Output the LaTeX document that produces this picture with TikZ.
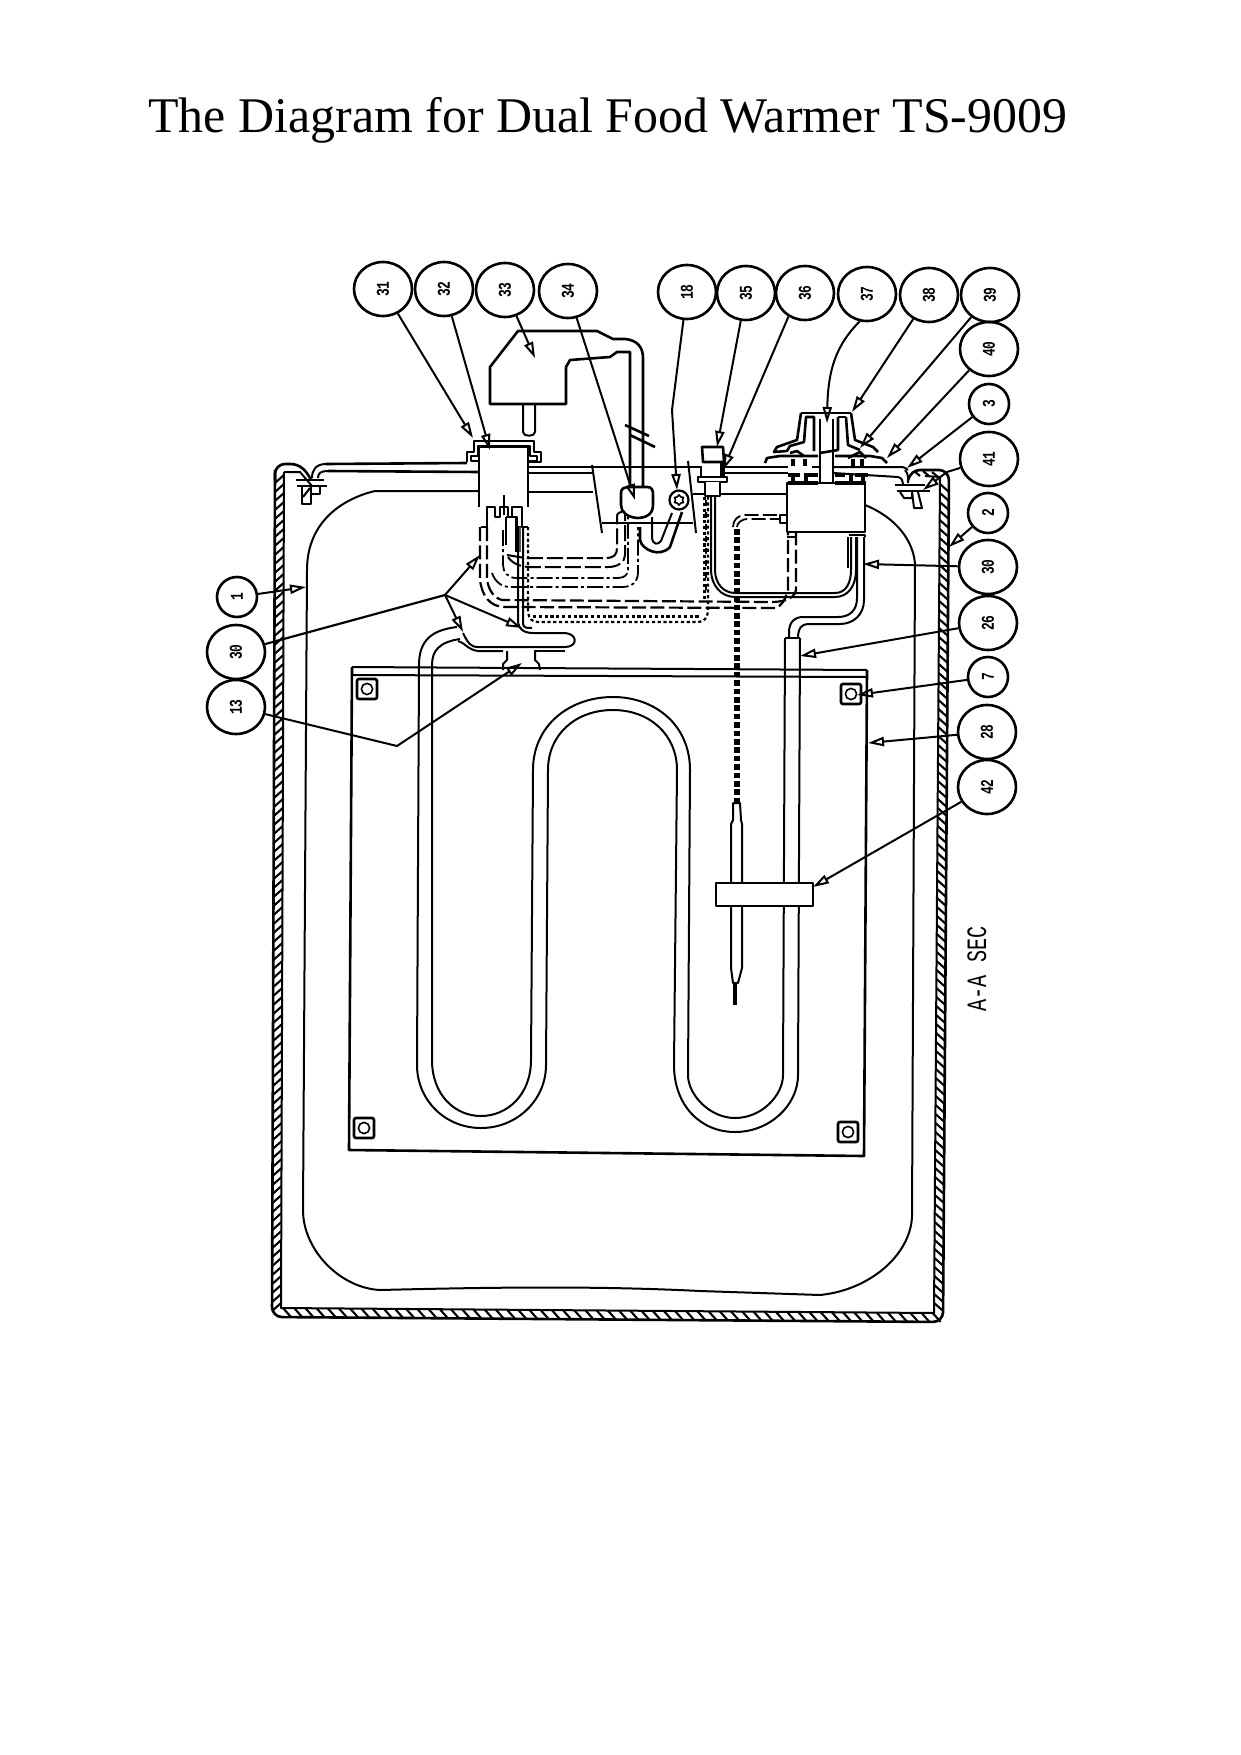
\documentclass[tikz,border=0pt]{standalone}
\usepackage{fontspec}
\usepackage{graphicx}
\setmainfont{Liberation Serif}
\newfontfamily\lblfont{Liberation Mono}
\usetikzlibrary{shapes.geometric,arrows.meta,calc}
\newcommand{\dn}[1]{\rotatebox{90}{\scalebox{.72}[1]{\lblfont\bfseries\fontsize{9}{9}\selectfont #1}}}
\tikzset{
  callout/.style={ellipse,draw,line width=1.3pt,inner sep=0pt},
  big/.style={callout,minimum width=29pt,minimum height=27pt},
  small/.style={callout,minimum width=20pt,minimum height=20pt},
  leader/.style={line width=1pt,-{Triangle[open,length=8pt,width=4.6pt,line width=1pt]}},
  plain/.style={line width=1pt},
  part/.style={line width=1pt,line join=round},
  heavy/.style={line width=1.3pt,line join=round},
  longdash/.style={line width=1.1pt,dash pattern=on 7pt off 2.2pt},
  medash/.style={line width=1pt,dash pattern=on 8pt off 2pt},
  dashdot/.style={line width=.9pt,dash pattern=on 8pt off 1.6pt on 1.5pt off 1.6pt},
  dotline/.style={line width=1.1pt,dash pattern=on 1.6pt off 1.3pt},
  capillary/.style={line width=2.6pt,dash pattern=on 2.8pt off 1.4pt},
  hatchstroke/.style={line width=1.05pt},
}
\begin{document}
\begin{tikzpicture}[x=0.5pt,y=-0.5pt]
\useasboundingbox (0,0) rectangle (1241,1755);
\fill[white] (0,0) rectangle (1241,1755);

\node[anchor=base west,inner sep=0pt,font=\fontsize{24.95}{26}\selectfont] (title) at (148,133) {The Diagram for Dual Food Warmer TS-9009};

% ---- callouts
\foreach \n/\t/\px/\py in {c31/31/383/289,c32/32/444/289,c33/33/505/290,c34/34/568/291,c18/18/687/292,c35/35/746/293,c36/36/805/293,c37/37/867/294,c38/38/929/295,c39/39/990/295,c40/40/989/349,c41/41/989/459,c30r/30/988/567,c26/26/988/623,c28/28/987/732,c42/42/987/787,c30l/30/236/652,c13/13/236/707}
  \node[big] (\n) at (\px,\py) {\dn{\t}};
\foreach \n/\t/\px/\py in {c3/3/989/404,c2/2/988/513,c7/7/988/677,c1/1/237/597}
  \node[small] (\n) at (\px,\py) {\dn{\t}};

% ---- outer wall (hatched)
\draw[heavy,rounded corners=5pt] (275,480) -- (275,464) -- (290,464);
\draw[heavy] (290,464) .. controls (300,464) and (306,470) .. (311,480);
\draw[heavy,rounded corners=5pt] (275,470) -- (272,1317) -- (943,1322) -- (949,470) -- (920,470);
\draw[heavy] (920,470) .. controls (914,470) and (910,474) .. (908,480);
\draw[part] (284,472) -- (281,1308) -- (934,1313) -- (940,477) -- (925,476);
\draw[part] (284,472) -- (300,472) -- (312,486);
\foreach \i in {0,...,92}
  \draw[hatchstroke] ({275-\i*9*3/853},{483+\i*9}) -- ({284-\i*9*3/853},{475+\i*9});
\foreach \i in {0,...,58}
  \draw[hatchstroke] ({283+\i*11.2},{1308+\i*11.2*5/662}) -- ({291+\i*11.2},{1317+\i*11.2*5/662});
\foreach \i in {0,...,91}
  \draw[hatchstroke] ({940-\i*9*6/836},{484+\i*9}) -- ({949-\i*9*6/836},{492+\i*9});
\foreach \x/\y in {914/471,923/471,932/472}
  \draw[hatchstroke] (\x,\y) -- (\x+6,\y+5);

% ---- left flange
\draw[heavy] (296,480) -- (324,480);
\draw[heavy] (297,486) -- (327,486);
\draw[part] (302,487) -- (302,504) -- (311,504) -- (311,487);
\draw[part] (311,494) -- (320,494) -- (320,487);
\draw[hatchstroke] (303,497) -- (310,488);
\draw[part] (312,478) .. controls (312,470) and (316,464) .. (326,464);
\draw[part] (318,478) .. controls (318,473) and (321,471) .. (328,471);

% ---- right flange
\draw[heavy] (895,485) -- (925,485);
\draw[heavy] (897,491) -- (930,491);
\draw[part] (900,492) -- (904,498) -- (912,498) -- (912,492);
\draw[part] (912,492) -- (914,508) -- (922,508) -- (918,492);
\draw[part] (905,470) .. controls (909,474) and (908,480) .. (908,483);
\draw[part] (898,477) .. controls (902,478) and (903,481) .. (903,484);

% ---- top plate
\draw[heavy] (326,464) -- (467,463);
\draw[heavy] (328,471) -- (479,472);
\draw[plain] (528,467) -- (702,467);
\draw[heavy] (528,473) -- (592,473);
\draw[plain] (723,467) -- (788,467) ;
\draw[heavy] (723,473) -- (788,473);
\draw[part] (812,467) -- (820,467);
\draw[part] (833,467) -- (900,467) .. controls (904,467) and (906,468) .. (908,470);
\draw[part] (833,473) -- (898,477);

% ---- inner pan
\draw[part] (480,491) -- (375,491) .. controls (345,498) and (307,520) .. (307,570) -- (303,1210) .. controls (303,1250) and (340,1288) .. (380,1290) .. controls (500,1287) and (600,1286) .. (700,1291) -- (820,1295) .. controls (870,1290) and (910,1255) .. (912,1217) -- (915,563) .. controls (912,535) and (890,515) .. (865,505);
\draw[part] (528,492) -- (593,492);
\draw[part] (693,494) -- (787,494);

% ---- switch (31/32)
\draw[heavy,fill=white] (479,507) -- (479,447) -- (528,447) -- (528,507);
\draw[heavy] (467,462) -- (467,452) -- (474,452) -- (474,441) -- (534,441) -- (534,452) -- (541,452) -- (541,462) -- (528,462);
\draw[heavy] (479,461) -- (471,461) -- (471,456) -- (478,456) -- (478,446) -- (530,446) -- (530,456) -- (537,456) -- (537,461) -- (528,461);
\draw[part] (479,472) -- (479,507) (528,473) -- (528,507);
\draw[part] (487,527) -- (487,507) -- (495,507) -- (495,517) -- (500,517) -- (500,507) -- (508,507) -- (508,517) -- (512,517) -- (512,507) -- (522,507) -- (522,527);
\draw[part] (504,495) -- (504,515);
\draw[part] (506,517) -- (517,517) -- (517,527) ;
\draw[part] (481,527) -- (487,527) (518,527) -- (528,527);
\draw[part] (506,517) -- (506,545);
\draw[part] (516,518) -- (516,552);
\draw[line width=1pt,gray!70!black] (520,527) -- (520,552);

% ---- plug (33)
\draw[heavy] (630,487) -- (630,352) -- (617,352) -- (610,357) -- (570,360) -- (566,367) -- (566,404) -- (490,404) -- (490,367) -- (518,331) -- (597,331) -- (613,339) -- (625,339) .. controls (637,340) and (643,347) .. (643,358) -- (643,487);
\draw[part] (523,404) -- (523,432) .. controls (523,437) and (535,437) .. (535,432) -- (535,404);
\draw[heavy,fill=white] (625,425) -- (649,436);
\draw[heavy] (630,435) -- (655,447);

% ---- socket / bracket
\draw[part] (592,465) -- (602,533);
\draw[heavy] (602,523) -- (693,523);
\draw[part] (688,461) -- (696,533);
\draw[heavy,fill=white] (627,487) -- (647,487) .. controls (652,487) and (653,490) .. (653,495) -- (653,505) .. controls (653,515) and (645,518) .. (637,518) .. controls (627,517) and (621,512) .. (621,505) -- (621,493) .. controls (621,489) and (624,487) .. (627,487) -- cycle;

% ---- wire loop and ring (18)
\draw[heavy] (640,527) -- (640,540) .. controls (642,550) and (660,558) .. (670,547) -- (682,512);
\draw[part] (652,517) -- (652,538) .. controls (653,545) and (658,545) .. (661,541) -- (672,513);
\node[circle,draw,line width=1.1pt,minimum size=9.5pt,inner sep=0pt,fill=white] (ring) at (679,500) {};
\node[star,star points=6,star point ratio=1.4,draw,line width=.8pt,minimum size=5pt,inner sep=0pt] (ringin) at (679,500) {};

% ---- bushing (35/36)
\draw[heavy,fill=white] (703,462) -- (702,447) -- (723,447) -- (724,462) -- cycle;
\draw[heavy,fill=white] (698,477) rectangle (727,482);
\draw[part,fill=white] (705,482) -- (705,496) -- (720,496) -- (720,482);
\draw[part] (701,467) -- (701,477) (724,467) -- (724,477);
\draw[line width=1.8pt] (722,462) -- (722,477);

% ---- thermostat box & knob
\draw[heavy,fill=white] (787,483) rectangle (865,532);
\draw[heavy] (787,537) -- (796,537) (849,535) -- (865,535) -- (865,537);
\draw[heavy] (780,515) rectangle (787,523);
\draw[heavy] (801,413) -- (851,413);
\draw[heavy] (820,419) -- (820,483);
\draw[heavy] (833,419) -- (833,483);
\draw[heavy] (801,413) -- (797,440) -- (777,447) -- (774,452) -- (787,451) -- (790,446) -- (804,442) -- (806,417) -- (814,417) -- (814,451);
\draw[heavy] (851,413) -- (855,440) -- (873,447) -- (878,452);
\draw[heavy] (846,417) -- (848,445) -- (860,450) ;
\draw[heavy] (838,417) -- (846,417);
\draw[heavy] (838,417) -- (838,450) -- (820,453);
\draw[heavy] (765,463) -- (767,458) -- (780,456) -- (800,456) -- (818,456);
\draw[heavy] (835,456) -- (870,456) -- (882,458) -- (887,463) ;
\draw[heavy] (790,453) -- (797,451) -- (804,456);
\draw[heavy] (848,458) -- (860,452) -- (866,458);
% studs through the plate
\draw[line width=1.6pt] (793,459) -- (793,466) (805,459) -- (805,466) (853,459) -- (853,466) (862,459) -- (862,466);
\draw[line width=1.6pt] (788,475) -- (800,475) (808,475) -- (818,475) (835,475) -- (845,475) (855,475) -- (868,475);
\draw[line width=1.6pt] (793,473) -- (793,483) (806,473) -- (806,483) (851,473) -- (851,483) (863,473) -- (863,483);
\draw[line width=1.6pt] (788,483) -- (818,483) (835,483) -- (866,483);

% ---- wires
\draw[medash] (507,555) -- (525,558) -- (605,558) .. controls (614,558) and (617,555) .. (617,548) -- (617,516) .. controls (617,513) and (620,512) .. (625,511);
\draw[medash] (508,557) .. controls (512,563) and (520,567) .. (530,567) -- (608,567) .. controls (618,567) and (625,562) .. (625,555) -- (625,515);
\draw[dashdot] (503,530) -- (503,565) .. controls (503,572) and (508,578) .. (516,578) -- (618,578) .. controls (625,578) and (628,574) .. (628,570) -- (628,517);
\draw[dashdot] (492,573) .. controls (495,582) and (502,587) .. (510,587) -- (622,587) .. controls (632,587) and (638,582) .. (638,572) -- (638,527);
\draw[longdash] (487,527) -- (487,578) .. controls (488,590) and (494,598) .. (502,600) -- (770,602) .. controls (782,602) and (794,600) .. (796,590) -- (796,533);
\draw[longdash] (480,527) -- (480,580) .. controls (482,596) and (490,607) .. (505,607) -- (775,608) .. controls (782,606) and (785,600) .. (788,590) -- (788,533);
\draw[dotline] (528,527) -- (528,612) .. controls (529,619) and (532,622) .. (538,622) -- (698,622) .. controls (704,622) and (707,618) .. (708,612) -- (708,497);
\draw[dotline] (523,530) -- (523,536);
\draw[dotline,line width=1.5pt] (704,497) -- (704,600);
\draw[dotline,line width=1.5pt] (533,616) -- (700,616);

% solid twin lines from switch to the heater
\draw[part] (518,527) -- (518,620) .. controls (518,630) and (525,633) .. (533,633) -- (565,633) .. controls (578,634) and (578,647) .. (565,647) -- (478,647) .. controls (470,647) and (468,642) .. (465,637) -- (463,633);
\draw[part] (523,527) -- (523,624) .. controls (524,628) and (526,628) .. (532,628);
\draw[part] (458,641) .. controls (464,642) and (468,650) .. (478,651) -- (503,651);
\draw[part] (534,651) -- (565,651);

% foot of heater terminal
\draw[part] (507,651) -- (507,660) -- (503,664) -- (503,670);
\draw[part] (535,651) -- (535,660) -- (539,664) -- (540,670);

% ---- capillary to the bulb
\draw[longdash,line width=.9pt] (733,527) .. controls (733,520) and (738,515) .. (745,515) -- (780,515);
\draw[longdash,line width=.9pt] (737,527) .. controls (737,523) and (742,519) .. (747,519) -- (780,519);
\draw[capillary] (737,529) -- (737,803);

% capillary bulb
\draw[part] (733,803) -- (740,803) -- (741,820) -- (742,824) -- (742,968) -- (738,983) -- (733,983) -- (731,968) -- (731,824) -- (733,820) -- cycle;
\draw[line width=1.8pt] (735,983) -- (735,1005);

% ---- thermostat capillary (solid U) and dotted neighbour
\draw[part] (715,497) -- (715,570) .. controls (715,583) and (723,593) .. (735,593) -- (835,593) .. controls (846,593) and (851,583) .. (851,570) -- (851,537);
\draw[part] (711,497) -- (711,570) .. controls (711,585) and (721,597) .. (735,597) -- (835,597) .. controls (848,597) and (856,586) .. (856,570) -- (856,537);
\draw[part] (848,537) -- (848,568);
\draw[dashed,line width=.7pt] (706,500) -- (706,590);

% ---- tubes to heater cap
\draw[part] (857,537) -- (857,598) .. controls (857,610) and (850,617) .. (838,617) -- (803,617) .. controls (794,617) and (789,623) .. (789,632) -- (789,638);
\draw[part] (864,537) -- (864,600) .. controls (864,615) and (853,624) .. (840,624) -- (808,624) .. controls (802,624) and (798,628) .. (798,638);

% ---- plate 28 with bolts
\draw[part] (352,675) -- (867,677);
\draw[part] (352,667) -- (867,670);
\draw[heavy] (867,670) -- (864,1156) -- (349,1150) -- (352,667);
\foreach \n/\px/\py in {b1/367/689,b2/851/694,b3/364/1128,b4/848/1132}{
  \node[draw,line width=1.3pt,minimum size=10pt,inner sep=0pt,rounded corners=1pt] (\n) at (\px,\py) {};
  \node[circle,draw,line width=.8pt,minimum size=5.6pt,inner sep=0pt] (\n i) at (\px,\py) {};
}

% ---- heater element
\draw[part] (457,627) .. controls (432,630) and (419,640) .. (419,665) -- (417,1065) .. controls (417,1100) and (445,1128) .. (481,1128) .. controls (517,1128) and (546,1100) .. (546,1065) -- (548,770) .. controls (548,735) and (575,710) .. (613,710) .. controls (650,710) and (677,735) .. (677,770) -- (674,1065) .. controls (674,1105) and (700,1132) .. (735,1132) .. controls (770,1132) and (798,1105) .. (798,1075) -- (800,638);
\draw[part] (460,639) .. controls (440,642) and (432,650) .. (432,665) -- (432,1060) .. controls (432,1095) and (455,1116) .. (481,1116) .. controls (507,1116) and (531,1095) .. (531,1060) -- (533,770) .. controls (533,725) and (570,697) .. (613,697) .. controls (655,697) and (690,725) .. (690,770) -- (688,1075) .. controls (688,1095) and (710,1118) .. (735,1118) .. controls (762,1118) and (783,1095) .. (783,1075) -- (785,638);
\draw[part] (785,638) -- (800,638);

% ---- clamp 42
\node[draw,heavy,fill=white,minimum width=48.5pt,minimum height=11.5pt,inner sep=0pt] (clamp) at (764.5,894.5) {};

\node[inner sep=0pt] (sec) at (977,969) {\rotatebox{90}{\scalebox{.72}[1]{\lblfont\fontsize{14}{14}\selectfont A-A SEC}}};

% ---- named tips of leaders
\foreach \n/\px/\py in {t31/473/438,t32/490/450,t33/535/358,t34/635/500,t18/677/490,t35/717/447,t36/723/470,t37/827/423,t38/852/412,t39/860/448,t40/887/458,t3/907/468,t41/923/490,t2/949/547,t30r/863/564,t26/800/656,t7/857/695,t28/868/743,t42/813/887,t1/306/587,ta/480/555,tb/463/632,tc/522/628,t13/522/663,j30/445/595,k13/397/746,k18/672/410,k37/830/373,k41/947/472}
  \coordinate (\n) at (\px,\py);

% ---- leaders
\draw[leader] (c31) -- (t31);
\draw[leader] (c32) -- (t32);
\draw[leader] (c33) -- (t33);
\draw[leader] (c34) -- (t34);
\draw[leader] (c18) -- (k18) -- (t18);
\draw[leader] (c35) -- (t35);
\draw[leader] (c36.-125) .. controls (760,383) and (740,430) .. (t36);
\draw[leader] (c37.-105) .. controls (836,345) and (828,370) .. (t37);
\draw[leader] (c38) -- (t38);
\draw[leader] (c39) -- (t39);
\draw[leader] (c40) -- (t40);
\draw[leader] (c3) -- (t3);
\draw[leader] (c41) -- (k41) -- (t41);
\draw[leader] (c2) -- (t2);
\draw[leader] (c30r) -- (t30r);
\draw[leader] (c26) -- (t26);
\draw[leader] (c7) -- (t7);
\draw[leader] (c28) -- (t28);
\draw[leader] (c42) -- (t42);
\draw[leader] (c1) -- (t1);
\draw[plain,line width=1.1pt] (c30l) -- (j30);
\draw[leader] (j30) -- (ta);
\draw[leader] (j30) -- (tb);
\draw[leader] (j30) -- (tc);
\draw[leader] (c13) -- (k13) -- (t13);
\end{tikzpicture}
\end{document}
